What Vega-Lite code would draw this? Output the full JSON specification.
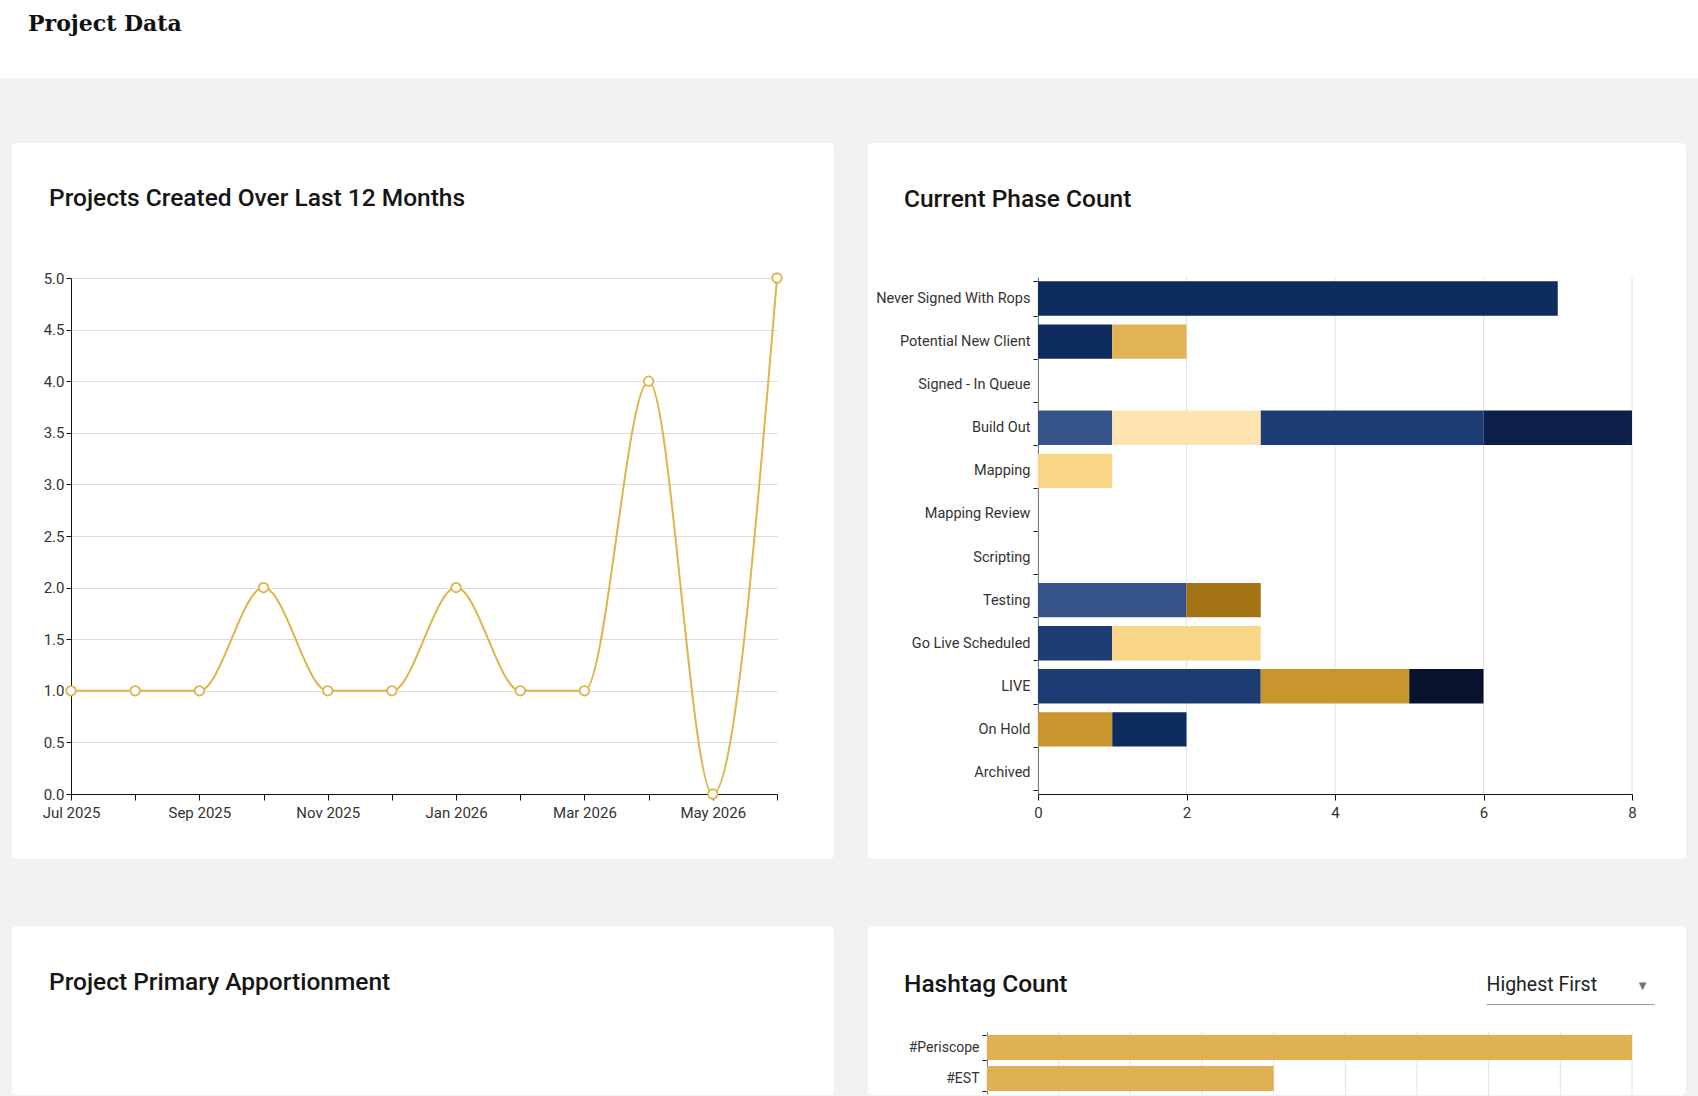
{
  "$schema": "https://vega.github.io/schema/vega-lite/v6.json",
  "background": "#f2f2f2",
  "padding": 0,
  "center": true,
  "spacing": 57,
  "config": {
    "view": {"stroke": null},
    "font": "Roboto",
    "title": {"font": "Roboto", "fontSize": 24.5, "fontWeight": 500, "color": "#151515", "anchor": "start", "frame": "group"},
    "axis": {"labelFont": "Roboto", "labelFontSize": 15, "labelColor": "#333333", "domainColor": "#111111", "tickColor": "#111111", "gridColor": "#e2e2e2", "gridWidth": 1, "labelFlush": false}
  },
  "vconcat": [
    {
      "width": 1698,
      "height": 78,
      "view": {"fill": "white", "stroke": null},
      "title": {"text": "Project Data", "font": "DejaVu Serif", "fontSize": 22, "fontWeight": 700, "color": "#111111", "dx": 28, "offset": -36},
      "data": {"values": []},
      "mark": "text",
      "encoding": {"text": {"field": "label", "type": "nominal"}}
    },
    {
      "spacing": 60,
      "center": true,
      "vconcat": [
        {
          "hconcat": [
            {
              "width": 822,
              "height": 716,
              "view": {"fill": "white", "stroke": null, "cornerRadius": 4},
              "title": {"text": "Projects Created Over Last 12 Months", "dx": 37, "offset": -68},
              "data": {"values": [
                {"month": "Jul 2025", "projects": 1},
                {"month": "Aug 2025", "projects": 1},
                {"month": "Sep 2025", "projects": 1},
                {"month": "Oct 2025", "projects": 2},
                {"month": "Nov 2025", "projects": 1},
                {"month": "Dec 2025", "projects": 1},
                {"month": "Jan 2026", "projects": 2},
                {"month": "Feb 2026", "projects": 1},
                {"month": "Mar 2026", "projects": 1},
                {"month": "Apr 2026", "projects": 4},
                {"month": "May 2026", "projects": 0},
                {"month": "Jun 2026", "projects": 5}
              ]},
              "encoding": {
                "x": {
                  "field": "month", "type": "ordinal", "sort": null,
                  "scale": {"type": "point", "range": [59, 765], "padding": 0},
                  "axis": {"orient": "bottom", "offset": -65, "title": null, "labelAngle": 0, "tickSize": 6, "labelPadding": 5, "grid": false, "labelOverlap": false,
                           "labelExpr": "test(/^(Jul|Sep|Nov|Jan|Mar|May)/, datum.label) ? datum.label : ''"}
                },
                "y": {
                  "field": "projects", "type": "quantitative",
                  "scale": {"domain": [0, 5], "range": [651, 135], "nice": false},
                  "axis": {"orient": "left", "offset": -59, "title": null, "values": [0, 0.5, 1, 1.5, 2, 2.5, 3, 3.5, 4, 4.5, 5], "format": ".1f", "tickSize": 5, "labelPadding": 2, "grid": true, "gridColor": "#dcdcdc"}
                }
              },
              "layer": [
                {"mark": {"type": "line", "interpolate": "monotone", "color": "#dfb44a", "strokeWidth": 2}},
                {"mark": {"type": "point", "filled": true, "fill": "white", "stroke": "#dfb44a", "strokeWidth": 1.8, "size": 90, "opacity": 1}}
              ]
            },
            {
              "width": 818,
              "height": 716,
              "view": {"fill": "white", "stroke": null, "cornerRadius": 4},
              "title": {"text": "Current Phase Count", "dx": 36, "offset": -77},
              "layer": [
                {
                  "data": {"values": [{"gridAt": 0}, {"gridAt": 2}, {"gridAt": 4}, {"gridAt": 6}, {"gridAt": 8}]},
                  "mark": {"type": "rule", "color": "#e2e2e2", "strokeWidth": 1},
                  "encoding": {
                    "x": {"field": "gridAt", "type": "quantitative", "scale": {"domain": [0, 8], "range": [170, 764], "nice": false}, "axis": null},
                    "y": {"datum": 0, "type": "quantitative", "scale": {"domain": [0, 1], "range": [651, 134], "nice": false}, "axis": null},
                    "y2": {"datum": 1}
                  }
                },
                {
                  "data": {"values": [
                    {"phase": "Never Signed With Rops", "type": "Type A", "count": 7, "seq": 1},
                    {"phase": "Potential New Client", "type": "Type A", "count": 1, "seq": 1},
                    {"phase": "Potential New Client", "type": "Type B", "count": 1, "seq": 2},
                    {"phase": "Build Out", "type": "Type C", "count": 1, "seq": 1},
                    {"phase": "Build Out", "type": "Type D", "count": 2, "seq": 2},
                    {"phase": "Build Out", "type": "Type E", "count": 3, "seq": 3},
                    {"phase": "Build Out", "type": "Type F", "count": 2, "seq": 4},
                    {"phase": "Mapping", "type": "Type G", "count": 1, "seq": 1},
                    {"phase": "Testing", "type": "Type C", "count": 2, "seq": 1},
                    {"phase": "Testing", "type": "Type H", "count": 1, "seq": 2},
                    {"phase": "Go Live Scheduled", "type": "Type E", "count": 1, "seq": 1},
                    {"phase": "Go Live Scheduled", "type": "Type G", "count": 2, "seq": 2},
                    {"phase": "LIVE", "type": "Type E", "count": 3, "seq": 1},
                    {"phase": "LIVE", "type": "Type I", "count": 2, "seq": 2},
                    {"phase": "LIVE", "type": "Type J", "count": 1, "seq": 3},
                    {"phase": "On Hold", "type": "Type I", "count": 1, "seq": 1},
                    {"phase": "On Hold", "type": "Type A", "count": 1, "seq": 2}
                  ]},
                  "mark": {"type": "bar"},
                  "encoding": {
                    "y": {
                      "field": "phase", "type": "nominal",
                      "scale": {
                        "domain": ["Never Signed With Rops", "Potential New Client", "Signed - In Queue", "Build Out", "Mapping", "Mapping Review", "Scripting", "Testing", "Go Live Scheduled", "LIVE", "On Hold", "Archived"],
                        "range": [134, 651], "paddingInner": 0.2, "paddingOuter": 0.1
                      },
                      "axis": {"orient": "left", "offset": -170, "title": null, "tickBand": "extent", "tickSize": 5, "labelPadding": 3, "grid": false, "labelFontSize": 14.5}
                    },
                    "x": {
                      "field": "count", "type": "quantitative", "stack": "zero",
                      "scale": {"domain": [0, 8], "range": [170, 764], "nice": false},
                      "axis": {"orient": "bottom", "offset": -65, "title": null, "values": [0, 2, 4, 6, 8], "format": "d", "tickSize": 6, "labelPadding": 5, "grid": false}
                    },
                    "color": {
                      "field": "type", "type": "nominal", "legend": null,
                      "scale": {
                        "domain": ["Type A", "Type B", "Type C", "Type D", "Type E", "Type F", "Type G", "Type H", "Type I", "Type J"],
                        "range": ["#0e2d5e", "#e2b456", "#365489", "#fde4b1", "#1d3c73", "#0c1f4a", "#f9d587", "#a37315", "#c9962e", "#08142f"]
                      }
                    },
                    "order": {"field": "seq", "type": "quantitative"}
                  }
                }
              ],
              "resolve": {"scale": {"x": "independent", "y": "independent"}, "axis": {"x": "independent", "y": "independent"}}
            }
          ],
          "spacing": 34
        },
        {
          "hconcat": [
            {
              "width": 822,
              "height": 169,
              "view": {"fill": "white", "stroke": null, "cornerRadius": 4},
              "title": {"text": "Project Primary Apportionment", "dx": 37, "offset": -69},
              "data": {"values": []},
              "mark": "arc",
              "encoding": {"theta": {"field": "share", "type": "quantitative"}}
            },
            {
              "width": 818,
              "height": 169,
              "view": {"fill": "white", "stroke": null, "cornerRadius": 4},
              "title": {"text": "Hashtag Count", "dx": 36, "offset": -78.5},
              "layer": [
                {
                  "data": {"values": [{"gridAt": 0}, {"gridAt": 1}, {"gridAt": 2}, {"gridAt": 3}, {"gridAt": 4}, {"gridAt": 5}, {"gridAt": 6}, {"gridAt": 7}, {"gridAt": 8}, {"gridAt": 9}]},
                  "mark": {"type": "rule", "color": "#e2e2e2", "strokeWidth": 1},
                  "encoding": {
                    "x": {"field": "gridAt", "type": "quantitative", "scale": {"domain": [0, 9], "range": [119, 764], "nice": false}, "axis": null},
                    "y": {"datum": 0, "type": "quantitative", "scale": {"domain": [0, 1], "range": [169, 106], "nice": false}, "axis": null},
                    "y2": {"datum": 1}
                  }
                },
                {
                  "data": {"values": [
                    {"hashtag": "#Periscope", "count": 9},
                    {"hashtag": "#EST", "count": 4}
                  ]},
                  "mark": {"type": "bar", "color": "#e0b152"},
                  "encoding": {
                    "y": {
                      "field": "hashtag", "type": "nominal", "sort": null,
                      "scale": {"range": [106, 168], "paddingInner": 0.2, "paddingOuter": 0.1},
                      "axis": {"orient": "left", "offset": -119, "title": null, "tickBand": "extent", "tickSize": 5, "labelPadding": 3, "grid": false, "labelFontSize": 14}
                    },
                    "x": {
                      "field": "count", "type": "quantitative",
                      "scale": {"domain": [0, 9], "range": [119, 764], "nice": false},
                      "axis": null
                    }
                  }
                },
                {
                  "data": {"values": []},
                  "mark": "rule",
                  "encoding": {
                    "x": {
                      "field": "pos", "type": "quantitative",
                      "scale": {"domain": [0, 1], "range": [618, 786], "nice": false, "zero": false},
                      "axis": {
                        "orient": "bottom", "offset": -91, "grid": false,
                        "domainColor": "#9a9a9a", "ticks": false, "tickSize": 0,
                        "values": [0.929], "labelExpr": "'▼'", "labelFont": "DejaVu Sans", "labelFontSize": 10, "labelColor": "#757575", "labelBaseline": "middle", "labelPadding": -19,
                        "title": "Highest First", "titleX": 618, "titleY": -14, "titleAlign": "left", "titleBaseline": "alphabetic", "titleAngle": 0,
                        "titleFont": "Roboto", "titleFontSize": 19.5, "titleFontWeight": 400, "titleColor": "#222222"
                      }
                    }
                  }
                }
              ],
              "resolve": {"scale": {"x": "independent", "y": "independent"}, "axis": {"x": "independent", "y": "independent"}}
            }
          ],
          "spacing": 34
        }
      ]
    }
  ]
}
